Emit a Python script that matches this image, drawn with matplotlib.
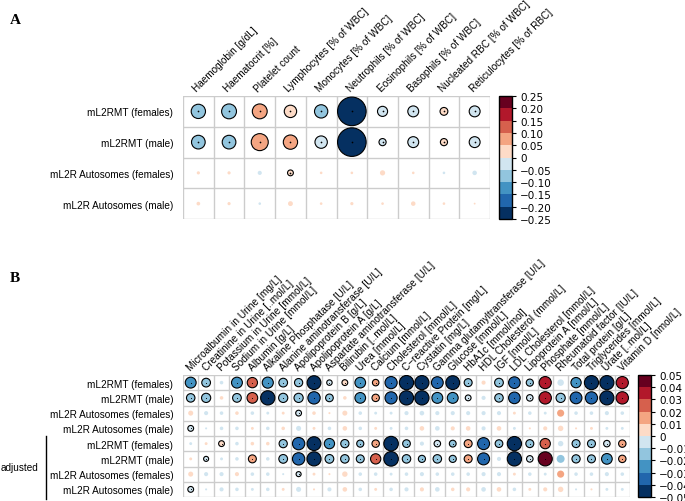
import numpy as np
import matplotlib
matplotlib.use("Agg")
import matplotlib.pyplot as plt
from matplotlib.colors import ListedColormap, BoundaryNorm
from matplotlib.cm import ScalarMappable
from matplotlib.lines import Line2D

plt.rcParams["font.family"] = ["Liberation Sans", "DejaVu Sans"]

# Row labels (shared by both panels).
row_labels = ["mL2RMT (females)", "mL2RMT (male)",
              "mL2R Autosomes (females)", "mL2R Autosomes (male)"]

# Panel A: blood traits.
blood_traits = ["Haemoglobin [g/dL]", "Haematocrit [%]", "Platelet count",
                "Lymphocytes [% of WBC]", "Monocytes [% of WBC]",
                "Neutrophils [% of WBC]", "Eosinophils [% of WBC]",
                "Basophils [% of WBC]", "Nucleated RBC [% of WBC]",
                "Reticulocytes [% of RBC]"]
blood_beta = [
    [-0.060, -0.065, 0.065, 0.045, -0.052, -0.240, -0.030, -0.035, 0.018, -0.035],
    [-0.055, -0.055, 0.085, 0.060, -0.045, -0.240, -0.015, -0.035, 0.015, -0.035],
    [0.003, 0.003, -0.005, 0.010, 0.002, 0.002, 0.008, 0.002, -0.002, -0.006],
    [0.004, 0.003, -0.002, 0.007, 0.002, 0.003, 0.002, 0.006, 0.002, 0.001],
]
blood_sig = [
    [1, 1, 1, 1, 1, 1, 1, 1, 1, 1],
    [1, 1, 1, 1, 1, 1, 1, 1, 1, 1],
    [0, 0, 0, 1, 0, 0, 0, 0, 0, 0],
    [0, 0, 0, 0, 0, 0, 0, 0, 0, 0],
]

# Panel B: biochemistry traits (rows 5-8 adjusted).
bio_traits = ["Microalbumin in Urine [mg/L]", "Creatinine in Urine [..mol/L]",
              "Potassium in Urine [mmol/L]", "Sodium in Urine [mmol/L]",
              "Albumin [g/L]", "Alkaline Phosphatase [U/L]",
              "Alanine aminotransferase [U/L]", "Apolipoprotein B [g/L]",
              "Apolipoprotein A [g/L]", "Aspartate aminotransferase [U/L]",
              "Bilirubin [..mol/L]", "Urea [mmol/L]", "Calcium [mmol/L]",
              "Cholesterol [mmol/L]", "C\u2212reactive Protein [mg/L]",
              "Cystatin [mg/L]", "Gamma glutamyltransferase [U/L]",
              "Glucose [mmol/L]", "HbA1c [mmol/mol]", "HDL Cholesterol (mmol/L]",
              "IGF [nmol/L]", "LDL Cholesterol [mmol/L]", "Lipoprotein A [nmol/L]",
              "Phosphate [mmol/L]", "Rheumatoid factor [IU/L]",
              "Total protein [g/L]", "Triglycerides [mmol/L]", "Urate [..mol/L]",
              "Vitamin D [nmol/L]"]
bio_beta = [
    [-0.028, -0.018, -0.003, -0.028, 0.025, -0.029, -0.018, -0.016, -0.045, -0.007,
     0.008, -0.027, 0.010, -0.035, -0.048, -0.047, -0.033, -0.045, -0.015, 0.004,
     -0.018, -0.032, -0.012, 0.035, -0.010, -0.025, -0.047, -0.047, 0.035],
    [-0.017, -0.020, 0.003, -0.018, 0.027, -0.048, -0.020, -0.020, -0.036, -0.014,
     0.003, -0.027, 0.013, -0.035, -0.048, -0.048, -0.028, -0.028, -0.008, -0.004,
     -0.017, -0.032, -0.010, 0.036, -0.020, -0.033, -0.035, -0.047, 0.036],
    [0.006, -0.004, -0.003, 0.003, -0.003, -0.002, 0.002, -0.008, 0.003, 0.001,
     0.006, -0.003, -0.002, -0.002, -0.004, -0.005, -0.004, -0.004, -0.004, -0.004,
     -0.004, 0.002, -0.003, -0.002, 0.012, -0.003, -0.003, -0.004, -0.003],
    [-0.008, -0.001, -0.003, -0.003, 0.002, -0.003, 0.003, -0.006, 0.002, -0.003,
     0.005, -0.003, 0.002, -0.002, -0.003, 0.005, -0.005, 0.004, 0.005, -0.004,
     0.005, -0.002, 0.001, 0.004, 0.007, 0.001, 0.002, -0.002, -0.002],
    [-0.002, 0.002, 0.008, -0.003, 0.003, 0.003, -0.016, -0.036, -0.045, -0.025,
     -0.016, -0.012, 0.013, -0.050, -0.014, -0.004, -0.010, -0.011, 0.015, -0.034,
     -0.014, -0.048, -0.015, 0.025, -0.007, -0.015, -0.015, -0.010, 0.013],
    [0.002, -0.006, -0.002, -0.003, 0.015, -0.003, -0.018, -0.036, -0.047, -0.018,
     -0.017, -0.015, 0.025, -0.050, -0.017, -0.012, -0.017, -0.012, 0.015, -0.034,
     -0.004, -0.048, -0.010, 0.047, -0.015, -0.016, -0.015, -0.027, 0.013],
    [0.006, -0.004, -0.004, 0.004, -0.003, -0.003, -0.001, -0.006, 0.002, 0.001,
     0.007, -0.003, -0.003, -0.002, -0.003, -0.004, -0.003, -0.003, -0.003, -0.004,
     -0.004, 0.002, -0.003, -0.002, 0.012, -0.003, -0.003, -0.004, -0.003],
    [-0.008, -0.001, -0.004, -0.003, -0.002, -0.003, 0.002, -0.006, 0.001, -0.004,
     0.005, -0.003, 0.002, -0.003, -0.004, 0.004, -0.005, 0.003, 0.004, -0.005,
     0.005, -0.003, 0.002, 0.004, 0.007, -0.001, 0.001, -0.002, -0.002],
]
bio_sig = [
    [1, 1, 0, 1, 1, 1, 1, 1, 1, 1, 1, 1, 1, 1, 1, 1, 1, 1, 1, 0, 1, 1, 1, 1, 0, 1, 1, 1, 1],
    [1, 1, 0, 1, 1, 1, 1, 1, 1, 1, 0, 1, 1, 1, 1, 1, 1, 1, 1, 0, 1, 1, 1, 1, 1, 1, 1, 1, 1],
    [0, 0, 0, 0, 0, 0, 0, 1, 0, 0, 0, 0, 0, 0, 0, 0, 0, 0, 0, 0, 0, 0, 0, 0, 0, 0, 0, 0, 0],
    [1, 0, 0, 0, 0, 0, 0, 0, 0, 0, 0, 0, 0, 0, 0, 0, 0, 0, 0, 0, 0, 0, 0, 0, 0, 0, 0, 0, 0],
    [0, 0, 1, 0, 0, 0, 1, 1, 1, 1, 1, 1, 1, 1, 1, 0, 1, 1, 1, 1, 1, 1, 1, 1, 0, 1, 1, 1, 1],
    [0, 1, 0, 0, 1, 0, 1, 1, 1, 1, 1, 1, 1, 1, 1, 1, 1, 1, 1, 1, 0, 1, 1, 1, 0, 1, 1, 1, 1],
    [0, 0, 0, 0, 0, 0, 0, 1, 0, 0, 0, 0, 0, 0, 0, 0, 0, 0, 0, 0, 0, 0, 0, 0, 0, 0, 0, 0, 0],
    [1, 0, 0, 0, 0, 0, 0, 0, 0, 0, 0, 0, 0, 0, 0, 0, 0, 0, 0, 0, 0, 0, 0, 0, 0, 0, 0, 0, 0],
]

# Colorbar ticks.
cbar_a_ticks = [0.25, 0.20, 0.15, 0.10, 0.05, 0, -0.05, -0.10, -0.15, -0.20, -0.25]
cbar_a_labels = ["0.25", "0.20", "0.15", "0.10", "0.05", "0",
                 "\u22120.05", "\u22120.10", "\u22120.15", "\u22120.20", "\u22120.25"]
cbar_b_ticks = [0.05, 0.04, 0.03, 0.02, 0.01, 0, -0.01, -0.02, -0.03, -0.04, -0.05]
cbar_b_labels = ["0.05", "0.04", "0.03", "0.02", "0.01", "0",
                 "\u22120.01", "\u22120.02", "\u22120.03", "\u22120.04", "\u22120.05"]

rdbu10 = ["#053061", "#2166ac", "#4393c3", "#92c5de", "#d1e5f0",
          "#fddbc7", "#f4a582", "#d6604d", "#b2182b", "#67001f"]
cmap = ListedColormap(rdbu10)

W, H = 685, 502
fig = plt.figure(figsize=(W / 100, H / 100), dpi=100)


def px_axes(left, top, right, bottom):
    return fig.add_axes([left / W, 1 - bottom / H, (right - left) / W, (bottom - top) / H])


def draw_panel(ax, cax, beta, sig, traits, vmax, cell_px, dot, lab_dx, lab_dy,
               lab_size, ticks, tick_labels):
    beta = np.array(beta)
    sig = np.array(sig).astype(bool)
    nr, nc = beta.shape
    norm = BoundaryNorm(np.linspace(-vmax, vmax, 11), cmap.N)
    yy, xx = np.mgrid[0:nr, 0:nc]
    d_pt = 0.95 * cell_px * np.sqrt(np.clip(np.abs(beta) / vmax, 0, 1)) * 0.72
    edges = ["black" if s else "none" for s in sig.ravel()]
    ax.scatter(xx.ravel() + 0.5, yy.ravel() + 0.5, s=d_pt.ravel() ** 2,
               c=beta.ravel(), cmap=cmap, norm=norm, edgecolors=edges,
               linewidths=0.8, zorder=3)
    ax.scatter(xx[sig] + 0.5, yy[sig] + 0.5, s=dot, c="black", marker="o",
               linewidths=0, zorder=4)
    ax.set_xlim(0, nc)
    ax.set_ylim(nr, 0)
    for i in range(nc + 1):
        ax.axvline(i, color="#cccccc", lw=1, zorder=1)
    for i in range(nr + 1):
        ax.axhline(i, color="#cccccc", lw=1, zorder=1)
    for s in ax.spines.values():
        s.set_visible(False)
    ax.set_xticks([])
    ax.set_yticks(np.arange(nr) + 0.5)
    ax.set_yticklabels((row_labels * 2)[:nr], fontsize=7.2)
    ax.tick_params(axis="y", length=0, pad=7)
    for j, t in enumerate(traits):
        ax.text(j + 0.5 - lab_dx, -lab_dy, t, rotation=45, ha="left", va="bottom",
                rotation_mode="anchor", fontsize=lab_size)
    cb = fig.colorbar(ScalarMappable(norm=norm, cmap=cmap), cax=cax, ticks=ticks)
    cb.ax.set_yticklabels(tick_labels, fontfamily="DejaVu Sans", fontsize=7.5)
    cb.ax.tick_params(length=3, width=0.8, pad=3)
    cb.outline.set_linewidth(1)


# Panel A.
ax_a = px_axes(183, 97, 490, 220)
cax_a = px_axes(499, 97, 512, 220)
draw_panel(ax_a, cax_a, blood_beta, blood_sig, blood_traits, 0.25, 30.7, 1.5,
           0.0, 0.1, 7.2, cbar_a_ticks, cbar_a_labels)

# Panel B.
ax_b = px_axes(183, 376, 630, 498)
cax_b = px_axes(638, 376, 651, 498)
draw_panel(ax_b, cax_b, bio_beta, bio_sig, bio_traits, 0.05, 15.3, 0.6,
           -0.1, 0.2, 7.3, cbar_b_ticks, cbar_b_labels)

# Panel letters and "adjusted" bracket.
fig.text(10 / W, 1 - 20 / H, "A", fontfamily="Liberation Serif", fontweight="bold",
         fontsize=11, va="center", ha="left")
fig.text(10 / W, 1 - 279 / H, "B", fontfamily="Liberation Serif", fontweight="bold",
         fontsize=11, va="center", ha="left")
fig.text(38 / W, 1 - 468 / H, "adjusted", fontsize=7.2, va="center", ha="right")
fig.add_artist(Line2D([46 / W, 46 / W], [1 - 437 / H, 1 - 500 / H], color="black", lw=1))

fig.savefig("out.png", dpi=100)
